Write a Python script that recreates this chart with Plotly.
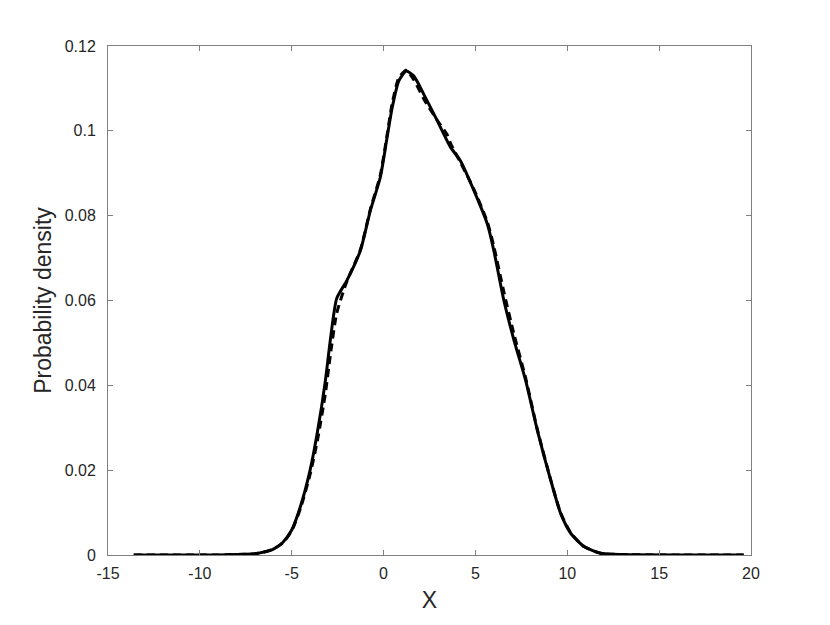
import plotly.graph_objects as go

# Solid curve (estimated density)
x_solid = [-13.6, -9, -8, -7, -6.5, -6, -5.5, -5, -4.5, -4, -3.6, -3.17, -2.9, -2.55, -2.0,
           -1.26, -0.72, -0.18, 0.19, 0.47, 0.83, 1.23, 1.65, 2.19, 2.92, 3.65, 4.19, 4.92,
           5.65, 6.0, 6.55, 7.1, 7.73, 8.37, 9.1, 9.64, 10.19, 10.91, 11.82, 13, 19.6]
y_solid = [0, 0, 0.0001, 0.0003, 0.0007, 0.0014, 0.0029, 0.0059, 0.0118, 0.020, 0.029, 0.041,
           0.0506, 0.0605, 0.0647, 0.0718, 0.0812, 0.089, 0.0984, 0.1055, 0.1118, 0.1141,
           0.1129, 0.1086, 0.1024, 0.0961, 0.0929, 0.0859, 0.078, 0.0718, 0.06, 0.0506,
           0.0412, 0.0294, 0.0176, 0.0098, 0.0051, 0.002, 0.0004, 0.0001, 0]

# Dashed curve (reference density)
x_dash = [-13.6, -9, -8, -7, -6.5, -6, -5.5, -5, -4.5, -4, -3.6, -3.17, -2.9, -2.55, -2.0,
          -1.26, -0.72, -0.18, 0.19, 0.47, 0.83, 1.23, 1.65, 2.19, 2.92, 3.5, 3.65, 4.19, 4.92,
          5.65, 6.0, 6.55, 7.1, 7.73, 8.37, 9.1, 9.64, 10.19, 10.91, 11.82, 13, 19.6]
y_dash = [0, 0, 0.0001, 0.0003, 0.0007, 0.0014, 0.0028, 0.0057, 0.0113, 0.019, 0.027, 0.038,
          0.047, 0.057, 0.0645, 0.072, 0.0815, 0.0895, 0.099, 0.1065, 0.1125, 0.1143,
          0.112, 0.1075, 0.1025, 0.0988, 0.097, 0.0925, 0.0862, 0.0785, 0.0728, 0.062, 0.052,
          0.0418, 0.0296, 0.0177, 0.0099, 0.0052, 0.002, 0.0004, 0.0001, 0]

x_ticks = [-15, -10, -5, 0, 5, 10, 15, 20]
y_ticks = [0, 0.02, 0.04, 0.06, 0.08, 0.1, 0.12]
y_ticklabels = ["0", "0.02", "0.04", "0.06", "0.08", "0.1", "0.12"]

FONT = "Liberation Sans, Arial, sans-serif"

fig = go.Figure()
fig.add_trace(go.Scatter(x=x_dash, y=y_dash, mode="lines",
                         line=dict(color="black", width=3, dash="8px,5px", shape="spline", smoothing=0.6),
                         showlegend=False))
fig.add_trace(go.Scatter(x=x_solid, y=y_solid, mode="lines",
                         line=dict(color="black", width=3, shape="spline", smoothing=0.6),
                         showlegend=False))

axis_common = dict(showgrid=False, zeroline=False, showline=True, linecolor="#808080",
                   linewidth=1, mirror="ticks", ticks="inside", ticklen=5, tickcolor="#808080",
                   tickfont=dict(family=FONT, size=16, color="#262626"),
                   title_font=dict(family=FONT, size=23, color="#262626"))

fig.update_xaxes(range=[-15, 20], tickvals=x_ticks, ticktext=[str(v) for v in x_ticks],
                 ticklabelstandoff=4,
                 title_text="X", title_standoff=10, **axis_common)
fig.update_yaxes(range=[0, 0.12], tickvals=y_ticks, ticktext=y_ticklabels,
                 ticklabelstandoff=8,
                 title_text="Probability density", title_standoff=6, **axis_common)

fig.update_layout(width=830, height=625, margin=dict(l=100, r=87, t=38, b=78, autoexpand=False),
                  paper_bgcolor="white", plot_bgcolor="white")

fig.write_html("out.html")
